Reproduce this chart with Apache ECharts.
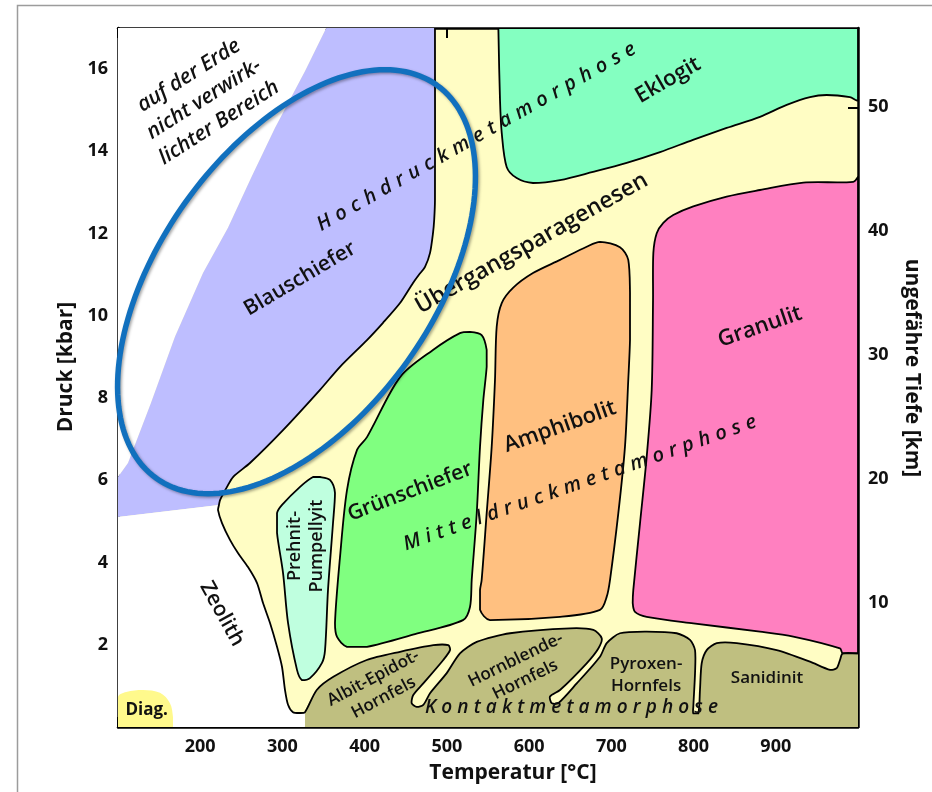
<!DOCTYPE html>
<html><head><meta charset="utf-8">
<script src="https://cdn.jsdelivr.net/npm/echarts@6/dist/echarts.min.js"></script>
<style>html,body{margin:0;padding:0;background:#fff;}#c{width:932px;height:792px;}</style>
</head><body><div id="c"></div>
<script>
// ---------- axis ranges / ticks ----------
const tempRange = [100, 1000];      // °C
const pressRange = [0, 17];         // kbar
const depthRange = [0, 56.4];       // km (right axis)
const tempTickStep = 100, pressTickStep = 2, depthTickStep = 10;

// ---------- region boundaries, [T °C, P kbar] ----------
const lavenderEdge = [[353.3,17],[327.4,15.95],[290.9,14.57],[261.8,13.35],[233.8,12.14],[203.4,11.04],[169.3,9.49],[140.1,7.88],[112.2,6.42],[100,6.08]];
const lavenderBottom = [[100,5.11],[222.8,5.40]];
const blauBoundary = [[485.5,17],[485.5,12.82],[484.6,12.35],[483.1,12.01],[479.5,11.53],[473.4,11.19],[466.0,11.00],[458.8,10.80],[443.0,10.31],[422.3,9.83],[402.8,9.41],[370.0,8.76],[345.7,8.20],[300.7,7.22],[260.5,6.42],[239.9,6.08],[232.6,5.84],[224.1,5.52],[222.8,5.40]];
const zeolithBoundary = [[222.8,5.40],[221.6,5.28],[226.5,4.96],[236.2,4.55],[245.9,4.23],[258.1,3.89],[269.1,3.50],[276.3,3.02],[284.9,2.53],[293.4,1.95],[299.5,1.46],[303.1,0.90],[306.8,0.54],[312.8,0.36],[321.4,0.34],[327.4,0.36]];
const kontaktBoundary = [[327.4,0.36],[341.7,0.90],[361.9,1.22],[402.5,1.63],[443.0,1.83],[483.5,1.99],[501.7,1.99],[503.8,1.87],[495.6,1.63],[471.3,1.06],[459.1,0.78],[457.2,0.58],[463.3,0.49],[471.3,0.54],[479.5,0.82],[499.8,1.31],[515.9,1.79],[536.3,2.07],[576.8,2.28],[649.7,2.40],[678.1,2.36],[688.3,2.16],[684.2,1.91],[670.0,1.55],[637.6,0.90],[625.4,0.74],[627.5,0.58],[635.5,0.58],[657.9,1.06],[686.2,1.71],[694.4,2.04],[710.5,2.28],[743.0,2.32],[779.5,2.28],[795.7,2.12],[801.8,1.87],[801.8,1.31],[799.7,0.49],[799.7,0.33],[805.8,0.33],[807.8,0.90],[809.9,1.55],[816.0,1.87],[828.2,2.04],[852.5,2.04],[901.1,1.87],[941.6,1.59],[966.0,1.39],[974.1,1.43],[978.1,1.63],[981.4,1.79],[1000,1.79]];
const diagZone = [[100,0],[100,0.73],[110.0,0.85],[130.4,0.90],[151.1,0.83],[163.2,0.58],[166.9,0.24],[166.9,0]];
const eklogit = [[562.6,17],[564.6,15.25],[566.7,14.45],[572.7,13.62],[584.9,13.35],[604.7,13.23],[637.6,13.30],[677.7,13.50],[718.7,13.72],[759.2,13.98],[799.3,14.28],[840.3,14.57],[880.8,14.84],[913.3,15.13],[941.6,15.32],[961.9,15.37],[990.2,15.32],[1000,15.25],[1000,17]];
const granulit = [[1000,13.38],[994.3,13.26],[933.5,13.24],[880.8,13.06],[840.3,12.90],[799.7,12.66],[775.3,12.45],[763.2,12.26],[755.2,12.01],[751.1,11.53],[750.7,10.38],[749.1,8.20],[743.0,6.57],[734.9,4.96],[726.7,3.33],[726.0,3.02],[728.8,2.80],[743.0,2.68],[799.7,2.52],[880.8,2.32],[921.3,2.20],[978.1,1.91],[981.4,1.79],[1000,1.79]];
const amphibolit = [[686.2,11.80],[710.5,11.67],[720.6,11.36],[722.7,10.56],[722.7,9.41],[720.6,8.44],[716.6,6.82],[708.5,5.20],[698.4,3.58],[694.4,3.17],[686.2,2.85],[637.6,2.68],[552.4,2.60],[540.3,2.85],[540.3,3.33],[542.3,3.58],[548.4,5.20],[554.5,6.82],[558.5,8.44],[560.6,9.74],[566.7,10.31],[580.4,10.68],[604.7,11.04],[637.6,11.36],[670.0,11.68]];
const gruenschiefer = [[515.9,9.58],[528.1,9.61],[542.3,9.53],[548.4,9.17],[548.4,8.76],[544.3,7.95],[540.3,6.82],[536.3,5.20],[530.2,3.58],[528.1,2.92],[519.6,2.60],[461.2,2.26],[402.8,1.95],[378.5,1.95],[366.4,2.19],[363.9,2.53],[370.0,4.13],[378.5,5.76],[390.7,6.74],[402.8,7.05],[443.0,8.51],[483.1,9.17]];
const prehnit = [[337.2,6.08],[345.7,6.08],[357.8,6.01],[363.9,5.69],[361.5,4.96],[355.4,3.33],[351.8,1.87],[348.1,1.56],[333.5,1.19],[323.8,1.14],[317.7,1.39],[306.8,2.53],[300.7,3.75],[293.4,4.72],[293.4,5.20],[299.5,5.40],[321.4,5.84]];

// highlight ellipse centre [T, P]
const ellipseCenter = [317.1, 10.83];

// ---------- labels ----------
const FAMILY = '"Open Sans", "Noto Sans", "DejaVu Sans", sans-serif';
const labels = [
  {text:'auf der Erde\nnicht verwirk-\nlichter Bereich', pos:[204.6,15.27], rot:32.5, size:21, italic:true, lh:28},
  {text:'Blauschiefer', pos:[321.4,10.90], rot:30.5, size:21},
  {text:'Übergangsparagenesen', pos:[603.1,11.76], rot:29.5, size:23},
  {text:'Eklogit', pos:[768.9,15.73], rot:30, size:22},
  {text:'Granulit', pos:[880.8,9.73], rot:19, size:22},
  {text:'Amphibolit', pos:[637.6,7.30], rot:19.5, size:22},
  {text:'Grünschiefer', pos:[455.1,5.72], rot:21, size:21},
  {text:'Prehnit-\nPumpellyit', pos:[328.0,4.40], rot:90, size:18, lh:22},
  {text:'Zeolith', pos:[226.5,2.75], rot:-61, size:21},
  {text:'Diag.', pos:[134.9,0.41], rot:0, size:17, bold:true},
  {text:'Albit-Epidot-\nHornfels', pos:[416.8,0.95], rot:28, size:17, lh:22},
  {text:'Hornblende-\nHornfels', pos:[589.5,1.39], rot:26, size:17, lh:22},
  {text:'Pyroxen-\nHornfels', pos:[742.2,1.26], rot:0, size:17, lh:22},
  {text:'Sanidinit', pos:[889.3,1.19], rot:0, size:17}
];
const spacedLabels = [
  {text:'Hochdruckmetamorphose', pos:[536.0,14.35], rot:29.5, size:20, length:363},
  {text:'Mitteldruckmetamorphose', pos:[661.9,5.93], rot:19.4, size:20, length:373},
  {text:'Kontaktmetamorphose', pos:[651.6,0.46], rot:0, size:19, length:293}
];

// ---------- build fills ----------
const whiteTop = [[100,17]].concat(lavenderEdge);
const lavender = lavenderEdge.concat([lavenderBottom[0]], blauBoundary.slice().reverse());
const whiteBottom = [lavenderBottom[0]].concat(zeolithBoundary, [[327.4,0],[100,0]]);
const kontakt = [[327.4,0]].concat(kontaktBoundary, [[1000,0]]);
const mainLine = blauBoundary.concat(zeolithBoundary.slice(1), kontaktBoundary.slice(1));

const fills = [
  {pts:whiteTop, fill:'#FFFFFF', smooth:0},
  {pts:lavender, fill:'#BEBEFF', smooth:0},
  {pts:whiteBottom, fill:'#FFFFFF', smooth:0},
  {pts:diagZone, fill:'#FFF98C', smooth:0.35},
  {pts:kontakt, fill:'#BFBF80', smooth:0.25}
];
const facies = [
  {pts:eklogit, fill:'#84FFC1'},
  {pts:granulit, fill:'#FF80C0'},
  {pts:amphibolit, fill:'#FFC080'},
  {pts:gruenschiefer, fill:'#80FF80'},
  {pts:prehnit, fill:'#BFFFDF'}
];

const NOC = [[1e9,1e9],[-1e9,-1e9]];
function poly(api, pts, closed, smooth, style){
  return {type: closed ? 'polygon' : 'polyline',
    shape:{points: pts.map(p => api.coord(p)), smooth: smooth, smoothConstraint: NOC},
    style: style};
}
const dummy = n => Array.from({length:n}, () => [100, 0]);

const measureCtx = document.createElement('canvas').getContext('2d');

const chart = echarts.init(document.getElementById('c'), null, {renderer:'canvas'});
const axisLine = {show:true, onZero:false, lineStyle:{color:'#000', width:2.5}};
const axisTick = {show:true, inside:true, length:10, lineStyle:{color:'#000', width:2}};
const tickFont = {color:'#111', fontSize:18, fontWeight:'bold', fontFamily:FAMILY};

chart.setOption({
  animation:false,
  backgroundColor:'#fff',
  grid:{left:118, right:74, top:28, bottom:65, show:true, backgroundColor:'#FFFDC4', borderWidth:0, containLabel:false, outerBoundsMode:'none'},
  xAxis:[
    {type:'value', min:tempRange[0], max:tempRange[1], interval:tempTickStep, position:'bottom',
     axisLine, axisTick, splitLine:{show:false},
     axisLabel:Object.assign({margin:11, formatter:v => (v<=tempRange[0]||v>=tempRange[1]) ? '' : String(v)}, tickFont)},
    {type:'value', min:tempRange[0], max:tempRange[1], interval:tempTickStep, position:'top',
     axisLine, axisTick, splitLine:{show:false}, axisLabel:{show:false}}
  ],
  yAxis:[
    {type:'value', min:pressRange[0], max:pressRange[1], interval:pressTickStep, position:'left',
     axisLine, axisTick, splitLine:{show:false},
     axisLabel:Object.assign({margin:10, showMaxLabel:false, formatter:v => (v>0 && v%pressTickStep===0) ? String(v) : ''}, tickFont)},
    {type:'value', min:depthRange[0], max:depthRange[1], interval:depthTickStep, position:'right',
     axisLine, axisTick, splitLine:{show:false},
     axisLabel:Object.assign({margin:10, showMaxLabel:false, formatter:v => (v>0 && v%depthTickStep===0) ? String(v) : ''}, tickFont)}
  ],
  graphic:[
    {type:'rect', shape:{x:17.5, y:5.5, width:1000, height:1000}, style:{fill:'none', stroke:'#9c9c9c', lineWidth:1.5}, z:0},
    {type:'text', x:513, y:773, style:{text:'Temperatur [°C]', fill:'#111', fontSize:21, fontWeight:'bold', fontFamily:FAMILY, align:'center', verticalAlign:'middle'}},
    {type:'text', x:66, y:367, rotation:Math.PI/2, style:{text:'Druck [kbar]', fill:'#111', fontSize:21, fontWeight:'bold', fontFamily:FAMILY, align:'center', verticalAlign:'middle'}},
    {type:'text', x:912, y:368, rotation:-Math.PI/2, style:{text:'ungefähre Tiefe [km]', fill:'#111', fontSize:21, fontWeight:'bold', fontFamily:FAMILY, align:'center', verticalAlign:'middle'}}
  ],
  series:[
    {type:'custom', name:'fills', clip:true, z:1, silent:true, data:dummy(fills.length),
     renderItem:(params, api) => { const f = fills[params.dataIndex];
       return poly(api, f.pts, true, f.smooth, {fill:f.fill, stroke:null, lineWidth:0}); }},
    {type:'custom', name:'facies', clip:true, z:2, silent:true, data:dummy(facies.length),
     renderItem:(params, api) => { const f = facies[params.dataIndex];
       return poly(api, f.pts, true, 0.3, {fill:f.fill, stroke:'#000', lineWidth:1.8}); }},
    {type:'custom', name:'outline', clip:true, z:3, silent:true, data:dummy(1),
     renderItem:(params, api) => poly(api, mainLine, false, 0.25, {fill:'none', stroke:'#000', lineWidth:1.8})},
    {type:'custom', name:'labels', clip:false, z:4, silent:true, data:dummy(labels.length),
     renderItem:(params, api) => { const l = labels[params.dataIndex]; const c = api.coord(l.pos);
       return {type:'text', x:c[0], y:c[1], rotation:l.rot*Math.PI/180,
         style:{text:l.text, fill:'#111', fontSize:l.size, fontFamily:FAMILY,
           fontStyle:l.italic ? 'italic' : 'normal', fontWeight:l.bold ? 'bold' : 600,
           lineHeight:l.lh || l.size*1.2, align:'center', verticalAlign:'middle'}}; }},
    {type:'custom', name:'spaced', clip:false, z:4, silent:true, data:dummy(spacedLabels.length),
     renderItem:(params, api) => { const l = spacedLabels[params.dataIndex]; const c = api.coord(l.pos);
       measureCtx.font = 'italic 600 ' + l.size + 'px ' + FAMILY;
       const chars = Array.from(l.text);
       const w = chars.map(ch => measureCtx.measureText(ch).width);
       const nat = w.reduce((s, v) => s + v, 0);
       const sp = (l.length - nat) / (chars.length - 1);
       const r = l.rot*Math.PI/180, dx = Math.cos(r), dy = -Math.sin(r);
       let s = -l.length/2;
       const children = chars.map((ch, i) => { const m = s + w[i]/2; s += w[i] + sp;
         return {type:'text', x:c[0] + dx*m, y:c[1] + dy*m, rotation:r,
           style:{text:ch, fill:'#111', fontSize:l.size, fontFamily:FAMILY, fontStyle:'italic', fontWeight:600,
             align:'center', verticalAlign:'middle'}}; });
       return {type:'group', children}; }},
    {type:'custom', name:'ellipse', clip:false, z:5, silent:true, data:dummy(1),
     renderItem:(params, api) => { const c = api.coord(ellipseCenter);
       const a = 241.5, b = 136.5, th = 54.5*Math.PI/180;
       const ux = Math.cos(th), uy = -Math.sin(th), vx = Math.sin(th), vy = Math.cos(th);
       const pts = [];
       for (let i = 0; i < 180; i++) { const t = i/180*2*Math.PI;
         pts.push([c[0] + a*Math.cos(t)*ux + b*Math.sin(t)*vx, c[1] + a*Math.cos(t)*uy + b*Math.sin(t)*vy]); }
       return {type:'polygon', shape:{points:pts},
         style:{fill:'none', stroke:'#1170BE', lineWidth:5.5, shadowBlur:3, shadowColor:'rgba(0,0,0,0.35)', shadowOffsetX:1.5, shadowOffsetY:1.5}}; }}
  ]
});
</script></body></html>
